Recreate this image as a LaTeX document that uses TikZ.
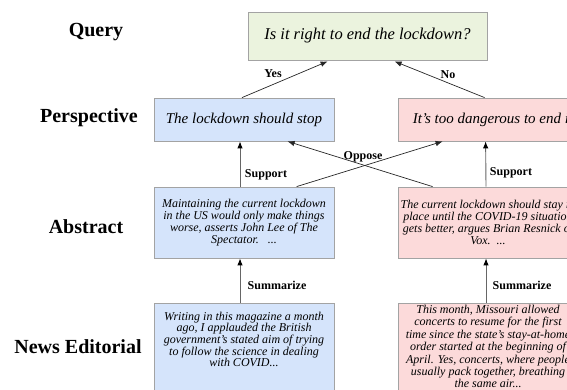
\documentclass[tikz,border=0pt]{standalone}
\usepackage{fontspec}
\setmainfont{Liberation Serif}
\usetikzlibrary{arrows.meta,calc}
\definecolor{qfill}{HTML}{EBF3DE}
\definecolor{bfill}{HTML}{D5E4FB}
\definecolor{rfill}{HTML}{FCDADA}
\definecolor{bord}{HTML}{A3A3A3}
\begin{document}
\begin{tikzpicture}[x=1pt,y=-1pt,
 box/.style={draw=bord,line width=0.8pt,inner sep=0pt,minimum width=180pt},
 rowlabel/.style={font=\fontsize{20}{24}\selectfont\bfseries,inner sep=0pt},
 txt/.style={font=\fontsize{12}{12}\selectfont\itshape,align=center},
 etxt/.style={font=\fontsize{12}{11}\selectfont\itshape,align=center},
 rtxt/.style={font=\fontsize{12}{12.4}\selectfont\itshape,align=center},
 elabel/.style={font=\fontsize{12}{14}\selectfont\bfseries,inner sep=0pt},
 arr/.style={-{Latex[length=7pt,width=5.5pt]},line width=0.7pt,draw=black!85},
 varr/.style={-{Latex[length=7pt,width=5.5pt,color=black]},line width=0.9pt,draw=black!60}]
\useasboundingbox (0,0) rectangle (567,389);
\clip (0,0) rectangle (567,389);
% row labels
\node[rowlabel] (lq) at (96,32) {Query};
\node[rowlabel] (lp) at (89,118) {Perspective};
\node[rowlabel] (la) at (86,227) {Abstract};
\node[rowlabel] (le) at (78,347) {News Editorial};
% query
\node[box,fill=qfill,minimum width=239pt,minimum height=48pt,font=\fontsize{16.5}{20}\selectfont\itshape] (q) at (367.5,36) {Is it right to end the lockdown?};
% perspectives
\node[box,fill=bfill,minimum height=43pt,font=\fontsize{15}{18}\selectfont\itshape] (bp) at (244,119.5) {The lockdown should stop};
\node[box,fill=rfill,minimum width=190pt,minimum height=43pt,font=\fontsize{15}{18}\selectfont\itshape] (rp) at (493,119.5) {It's too dangerous to end it};
% abstracts
\node[box,fill=bfill,minimum height=71pt,txt] (ba) at (244,222.5) {Maintaining the current lockdown\\in the US would only make things\\worse, asserts John Lee of The\\Spectator.\ \ \ ...};
\node[box,fill=rfill,minimum height=71pt,txt] (ra) at (488,222.5) {The current lockdown should stay in\\place until the COVID-19 situation\\gets better, argues Brian Resnick of\\Vox.\ \ ...};
% editorials
\node[box,fill=bfill,minimum height=120pt,anchor=north] (be) at (244,303) {};
\node[box,fill=rfill,minimum height=120pt,anchor=north] (re) at (488,303) {};
\node[etxt,anchor=north,inner sep=0pt] (bet) at (244,311.5) {Writing in this magazine a month\\ago, I applauded the British\\government's stated aim of trying\\to follow the science in dealing\\with COVID...};
\node[rtxt,anchor=north,inner sep=0pt] (ret) at (488,305) {This month, Missouri allowed\\concerts to resume for the first\\time since the state's stay-at-home\\order started at the beginning of\\April. Yes, concerts, where people\\usually pack together, breathing\\the same air...};
% connectors
\draw[arr] ($(bp.north)+(-2,0)$) -- ($(q.south west)+(80,1)$);
\draw[arr] ($(rp.north west)+(87,0)$) -- ($(q.south west)+(147,1)$);
\draw[varr] ($(ba.north)+(-4,0)$) -- ($(bp.south)+(-4,0)$);
\draw[varr] ($(ra.north)+(-2,0)$) -- ($(rp.south west)+(88,0)$);
\draw[arr] ($(ba.north west)+(143,0)$) -- ($(rp.south west)+(45,0)$);
\draw[arr] ($(ra.north west)+(35,0)$) -- ($(bp.south west)+(134,0)$);
\draw[varr] ($(be.north)+(-4,0)$) -- ($(ba.south)+(-4,0)$);
\draw[varr] ($(re.north)+(-2,0)$) -- ($(ra.south)+(-2,0)$);
% edge labels
\node[elabel] (yes) at (273,74) {Yes};
\node[elabel] (no) at (448,75) {No};
\node[elabel] (sup1) at (266,175) {Support};
\node[elabel] (sup2) at (511,173) {Support};
\node[elabel] (opp) at (363,157) {Oppose};
\node[elabel] (sum1) at (277,285) {Summarize};
\node[elabel] (sum2) at (522,285) {Summarize};
\end{tikzpicture}
\end{document}
